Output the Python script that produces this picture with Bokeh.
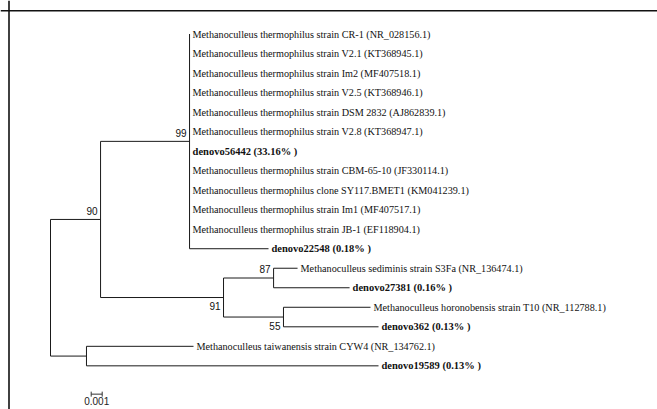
import math
from bokeh.plotting import figure
from bokeh.models import Range1d, Span, ColumnDataSource
from bokeh.embed import file_html
from bokeh.resources import INLINE
from bokeh.core.properties import value

# ---------------- data ----------------
tip_labels = [
    "Methanoculleus thermophilus strain CR-1 (NR_028156.1)",
    "Methanoculleus thermophilus strain V2.1 (KT368945.1)",
    "Methanoculleus thermophilus strain Im2 (MF407518.1)",
    "Methanoculleus thermophilus strain V2.5 (KT368946.1)",
    "Methanoculleus thermophilus strain DSM 2832 (AJ862839.1)",
    "Methanoculleus thermophilus strain V2.8 (KT368947.1)",
    "denovo56442 (33.16% )",
    "Methanoculleus thermophilus strain CBM-65-10 (JF330114.1)",
    "Methanoculleus thermophilus clone SY117.BMET1 (KM041239.1)",
    "Methanoculleus thermophilus strain Im1 (MF407517.1)",
    "Methanoculleus thermophilus strain JB-1 (EF118904.1)",
    "denovo22548 (0.18% )",
    "Methanoculleus sediminis strain S3Fa (NR_136474.1)",
    "denovo27381 (0.16% )",
    "Methanoculleus horonobensis strain T10 (NR_112788.1)",
    "denovo362 (0.13% )",
    "Methanoculleus taiwanensis strain CYW4 (NR_134762.1)",
    "denovo19589 (0.13% )",
]
tip_is_otu = [False, False, False, False, False, False, True, False, False,
              False, False, True, False, True, False, True, False, True]
tip_parent = ["n99"] * 12 + ["n87", "n87", "n55", "n55", "nTw", "nTw"]
tip_branch = [0, 0, 0, 0, 0, 0, 0, 0, 0, 0, 0, 0.00718,
              0.00218, 0.00691, 0.00791, 0.00864, 0.00973, 0.02655]

internal_nodes = ["root", "n90", "n99", "n91", "n87", "n55", "nTw"]
internal_parent = [None, "root", "n90", "n90", "n91", "n91", "root"]
internal_branch = [0.0, 0.00455, 0.00809, 0.01118, 0.00455, 0.00545, 0.00327]

bootstrap_nodes = ["n99", "n90", "n87", "n91", "n55"]
bootstrap_values = ["99", "90", "87", "91", "55"]

scale_length = 0.001
scale_label = "0.001"

# ---------------- layout ----------------
PX_PER_UNIT = 11000.0
ROW_PX = 19.52
W, H = 657, 409
ROOT_PX = 50.0
TOP_PX = 33.5

node_x = {}
parent_of = dict(zip(internal_nodes, internal_parent))
blen_of = dict(zip(internal_nodes, internal_branch))
for i in range(len(tip_labels)):
    parent_of["t%d" % i] = tip_parent[i]
    blen_of["t%d" % i] = tip_branch[i]

def get_x(n):
    if n in node_x:
        return node_x[n]
    par = parent_of[n]
    v = 0.0 if par is None else get_x(par) + blen_of[n]
    node_x[n] = v
    return v

for n in parent_of:
    get_x(n)

children = {}
for n, par in parent_of.items():
    if par is not None:
        children.setdefault(par, []).append(n)

node_y = {"t%d" % i: float(i) for i in range(len(tip_labels))}

def get_y(n):
    if n in node_y:
        return node_y[n]
    ys = [get_y(c) for c in children[n]]
    v = (min(ys) + max(ys)) / 2.0
    node_y[n] = v
    return v

for n in internal_nodes:
    get_y(n)

x0 = -ROOT_PX / PX_PER_UNIT
y_top = -TOP_PX / ROW_PX
p = figure(width=W, height=H, output_backend="svg", toolbar_location=None,
           x_range=Range1d(x0, x0 + W / PX_PER_UNIT),
           y_range=Range1d(y_top + H / ROW_PX, y_top),
           min_border=0)
p.axis.visible = False
p.grid.visible = False
p.outline_line_color = None
p.background_fill_color = "white"

# border (top and left)
p.add_layout(Span(location=y_top + 10.2 / ROW_PX, dimension="width",
                  line_color="#111111", line_width=1.6))
p.add_layout(Span(location=x0 + 8.5 / PX_PER_UNIT, dimension="height",
                  line_color="#111111", line_width=1.6))

# branches
hx0, hx1, hy = [], [], []
vx, vy0, vy1 = [], [], []
for n, kids in children.items():
    ys = [node_y[c] for c in kids]
    vx.append(node_x[n]); vy0.append(min(ys)); vy1.append(max(ys))
    for c in kids:
        if node_x[c] > node_x[n]:
            hx0.append(node_x[n]); hx1.append(node_x[c]); hy.append(node_y[c])
p.segment(x0=hx0, y0=hy, x1=hx1, y1=hy, line_color="#1a1a1a", line_width=1)
p.segment(x0=vx, y0=vy0, x1=vx, y1=vy1, line_color="#1a1a1a", line_width=1)

# tip labels
src = ColumnDataSource(dict(
    x=[node_x["t%d" % i] for i in range(len(tip_labels))],
    y=[node_y["t%d" % i] for i in range(len(tip_labels))],
    text=tip_labels,
    style=["bold" if b else "normal" for b in tip_is_otu],
    size=["10.5px" if b else "10.2px" for b in tip_is_otu],
))
p.text(x="x", y="y", text="text", source=src, x_offset=3,
       text_font=value("Liberation Serif"), text_font_size="size",
       text_font_style="style", text_baseline="middle", text_align="left",
       text_color="#111111")

# bootstrap labels
place = {"n99": ("node", -8), "n90": ("node", -8), "n87": ("top", 1),
         "n91": ("node", 8), "n55": ("bottom", -1)}
bx, by, boff = [], [], []
for n in bootstrap_nodes:
    mode, off = place[n]
    ys = [node_y[c] for c in children[n]]
    yy = node_y[n] if mode == "node" else (min(ys) if mode == "top" else max(ys))
    bx.append(node_x[n]); by.append(yy); boff.append(off)
bsrc = ColumnDataSource(dict(x=bx, y=by, text=bootstrap_values, yo=boff))
p.text(x="x", y="y", text="text", source=bsrc, x_offset=-3, y_offset="yo",
       text_font=value("Liberation Sans"), text_font_size="10px",
       text_baseline="middle", text_align="right", text_color="#111111")

# scale bar
sb_x = 0.0037
sb_y = 18.45
p.segment(x0=[sb_x], y0=[sb_y], x1=[sb_x + scale_length], y1=[sb_y],
          line_color="#333333", line_width=1)
p.scatter(x=[sb_x, sb_x + scale_length], y=[sb_y, sb_y], marker="dash",
          angle=math.pi / 2, size=5, line_color="#333333", line_width=1)
p.text(x=[sb_x + scale_length / 2], y=[sb_y], text=[scale_label], y_offset=3,
       text_font=value("Liberation Sans"), text_font_size="10px",
       text_baseline="top", text_align="center", text_color="#222222")

open("out.html", "w").write(file_html(p, INLINE))
